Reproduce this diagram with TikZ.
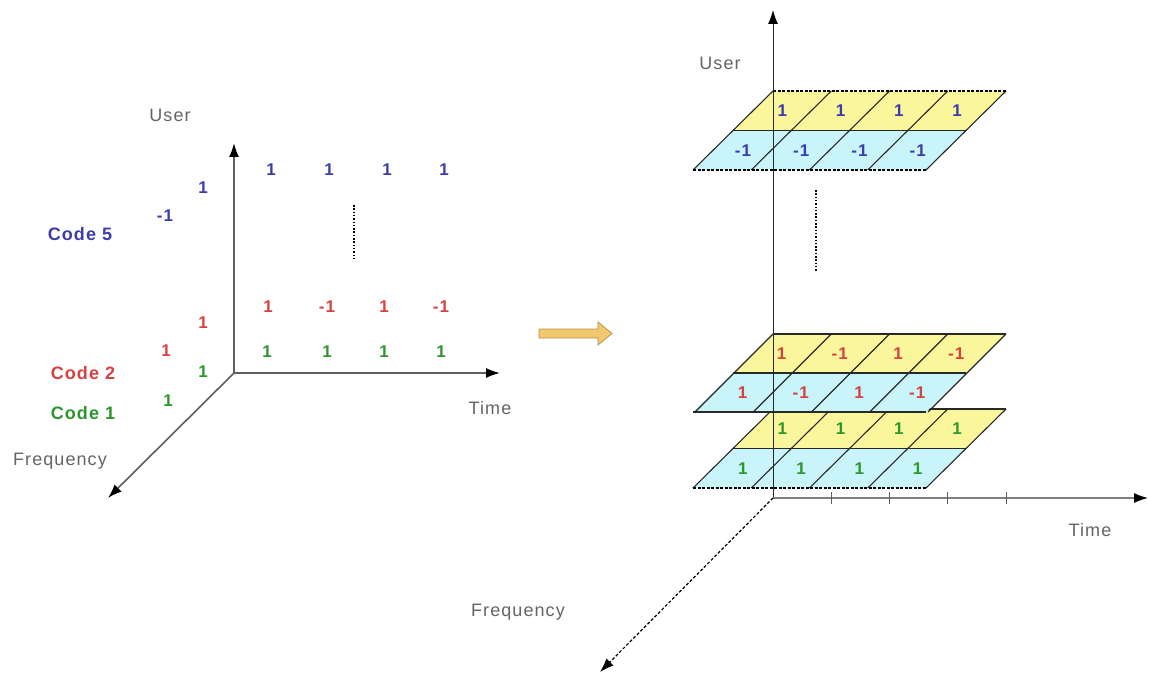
\documentclass[tikz,border=0pt]{standalone}
\usepackage{fontspec}
\setmainfont[LetterSpace=6]{Liberation Sans}
\usetikzlibrary{arrows.meta}
\definecolor{cblue}{RGB}{60,60,175}
\definecolor{cred}{RGB}{215,65,65}
\definecolor{cgreen}{RGB}{45,150,45}
\definecolor{axisgray}{RGB}{95,95,95}
\definecolor{txtgray}{RGB}{100,100,100}
\definecolor{pyellow}{RGB}{250,246,155}
\definecolor{pcyan}{RGB}{200,244,250}
\definecolor{arrowfill}{RGB}{240,200,110}
\definecolor{arrowdraw}{RGB}{185,145,75}
\definecolor{edgecol}{RGB}{40,40,40}
\begin{document}
\begin{tikzpicture}[x=1pt,y=-1pt,
  num/.style={font=\fontsize{17}{20}\selectfont\bfseries, inner sep=0pt},
  codelbl/.style={font=\fontsize{18}{21}\selectfont\bfseries, inner sep=0pt},
  axlabel/.style={font=\fontsize{18}{21}\selectfont, text=txtgray, inner sep=0pt},
  tip/.style={-{Latex[length=14pt,width=10pt,color=black]}},
  axisline/.style={draw=axisgray, line width=1.6pt, tip},
  edge/.style={draw=edgecol, line width=1.1pt},
  dashedge/.style={draw=black, line width=1.3pt, dash pattern=on 3pt off 1.5pt},
  dottedline/.style={draw=black, line width=1.4pt, dash pattern=on 1.5pt off 1.8pt},
  tick/.style={draw=axisgray, line width=1pt}]
\useasboundingbox (0,0) rectangle (1149,674);

% ---------------- left diagram ----------------
\coordinate (LO) at (234,373);
\coordinate (LU) at (234,143);
\coordinate (LT) at (500,373);
\coordinate (LF) at (108,498);
\draw[axisline] (LO) -- (LU);
\draw[axisline] (LO) -- (LT);
\draw[axisline] (LO) -- (LF);

\node[axlabel] (luser) at (170,115) {User};
\node[axlabel] (ltime) at (490,408) {Time};
\node[axlabel] (lfreq) at (60,461) {Frequency};

\node[num, text=cblue] (b1) at (271,170) {1};
\node[num, text=cblue] (b2) at (329,170) {1};
\node[num, text=cblue] (b3) at (387,170) {1};
\node[num, text=cblue] (b4) at (444,170) {1};
\node[num, text=cblue] (b5) at (203,188) {1};
\node[num, text=cblue] (b6) at (165,216) {-1};
\node[codelbl, text=cblue] (c5) at (80,234) {Code 5};

\coordinate (ld1) at (354,205);
\coordinate (ld2) at (354,258);
\draw[dottedline] (ld1) -- (ld2);

\node[num, text=cred] (r1) at (268,307) {1};
\node[num, text=cred] (r2) at (327,307) {-1};
\node[num, text=cred] (r3) at (384,307) {1};
\node[num, text=cred] (r4) at (441,307) {-1};
\node[num, text=cred] (r5) at (203,323) {1};
\node[num, text=cred] (r6) at (166,351) {1};
\node[codelbl, text=cred] (c2) at (83,373) {Code 2};

\node[num, text=cgreen] (g1) at (267,352) {1};
\node[num, text=cgreen] (g2) at (327,352) {1};
\node[num, text=cgreen] (g3) at (384,352) {1};
\node[num, text=cgreen] (g4) at (441,352) {1};
\node[num, text=cgreen] (g5) at (203,372) {1};
\node[num, text=cgreen] (g6) at (168,401) {1};
\node[codelbl, text=cgreen] (c1) at (83,413) {Code 1};

% ---------------- block arrow ----------------
\filldraw[fill=arrowfill, draw=arrowdraw, line width=0.8pt]
  (539,329) -- (598,329) -- (598,322) -- (612,333.5) -- (598,345) -- (598,338) -- (539,338) -- cycle;

% ---------------- right diagram: plane pairs ----------------
% green pair (bottom)
\begin{scope}[shift={(0,409)}]
  \fill[pyellow] (773,0) -- (1006,0) -- (966,39.5) -- (733,39.5) -- cycle;
  \fill[pcyan] (733,39.5) -- (966,39.5) -- (926,79) -- (693,79) -- cycle;
  \draw[edge] (733,39.5) -- (966,39.5);
  \draw[edge] (773,0) -- (1006,0);
  \foreach \k in {0,...,4} \draw[edge] (773+58.25*\k,0) -- (693+58.25*\k,79);
  \draw[dashedge] (693,79) -- (926,79);
  \foreach \k in {0,...,3} {
    \node[num, text=cgreen] (gy\k) at (782.4+58.25*\k,19.75) {1};
    \node[num, text=cgreen] (gc\k) at (742.9+58.25*\k,59.25) {1};
  }
\end{scope}
% red pair (middle)
\begin{scope}[shift={(0,334)}]
  \fill[pyellow] (773,0) -- (1006,0) -- (966,39) -- (733,39) -- cycle;
  \fill[pcyan] (733,39) -- (966,39) -- (926,78) -- (693,78) -- cycle;
  \draw[edge] (733,39) -- (966,39);
  \draw[edge] (773,0) -- (1006,0);
  \draw[edge] (693,78) -- (926,78);
  \foreach \k in {0,...,4} \draw[edge] (773+58.25*\k,0) -- (695+58.25*\k,78);
  \foreach \k/\v in {0/1,1/-1,2/1,3/-1} {
    \node[num, text=cred] (ry\k) at (781.5+58.25*\k,19.5) {\v};
    \node[num, text=cred] (rc\k) at (742.5+58.25*\k,58.5) {\v};
  }
\end{scope}
% blue pair (top)
\begin{scope}[shift={(0,91)}]
  \fill[pyellow] (773,0) -- (1006,0) -- (966,39.5) -- (733,39.5) -- cycle;
  \fill[pcyan] (733,39.5) -- (966,39.5) -- (926,79) -- (693,79) -- cycle;
  \draw[edge] (733,39.5) -- (966,39.5);
  \foreach \k in {0,...,4} \draw[edge] (773+58.25*\k,0) -- (693+58.25*\k,79);
  \draw[dashedge] (773,0) -- (1006,0);
  \draw[dashedge] (693,79) -- (926,79);
  \foreach \k in {0,...,3} {
    \node[num, text=cblue] (by\k) at (782.4+58.25*\k,19.75) {1};
    \node[num, text=cblue] (bc\k) at (742.9+58.25*\k,59.25) {-1};
  }
\end{scope}

% ---------------- right diagram: axes ----------------
\coordinate (RO) at (773,498);
\coordinate (RU) at (773,10);
\coordinate (RT) at (1148,498);
\coordinate (RF) at (600,672);
\draw[draw=edgecol, line width=1pt, tip] (RO) -- (RU);
\draw[draw=axisgray!80, line width=1.2pt, tip] (RO) -- (RT);
\draw[draw=black, line width=1.2pt, dash pattern=on 3pt off 2pt, tip] (RO) -- (RF);
\foreach \k in {1,...,4} {
  \coordinate (tk\k a) at (773+58.25*\k,492);
  \coordinate (tk\k b) at (773+58.25*\k,504);
  \draw[tick] (tk\k a) -- (tk\k b);
}
\coordinate (rd1) at (816,190);
\coordinate (rd2) at (816,272);
\draw[dottedline] (rd1) -- (rd2);

\node[axlabel] (ruser) at (720,63) {User};
\node[axlabel] (rtime) at (1090,530) {Time};
\node[axlabel] (rfreq) at (518,612) {Frequency};
\end{tikzpicture}
\end{document}
